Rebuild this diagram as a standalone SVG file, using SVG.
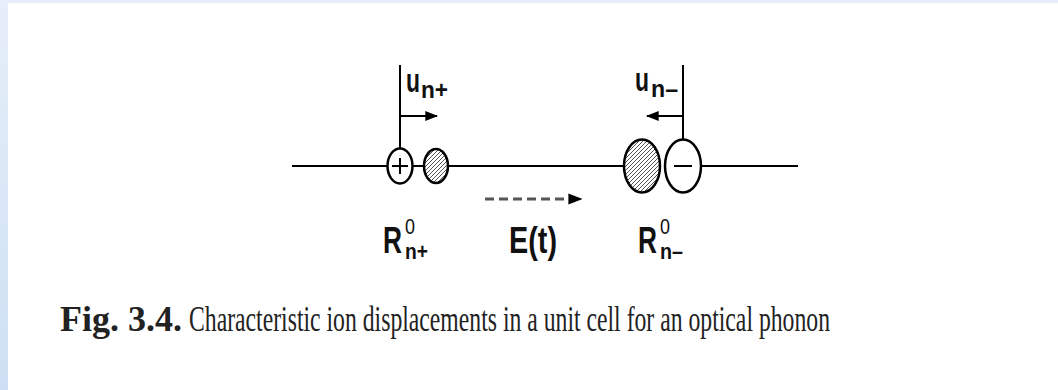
<svg xmlns="http://www.w3.org/2000/svg" width="1058" height="390" viewBox="0 0 1058 390">
<defs>
<linearGradient id="bg" x1="0" y1="0" x2="0" y2="1">
<stop offset="0" stop-color="#e6eef9"/>
<stop offset="1" stop-color="#cde0f3"/>
</linearGradient>
<pattern id="hatch" width="4" height="4" patternUnits="userSpaceOnUse">
<path d="M-1,1 L1,-1 M0,4 L4,0 M3,5 L5,3" stroke="#555" stroke-width="1"/>
</pattern>
<marker id="ah" viewBox="0 0 10 10" refX="9" refY="5" markerWidth="13" markerHeight="11" markerUnits="userSpaceOnUse" orient="auto" preserveAspectRatio="none">
<path d="M0,0.5 L10,5 L0,9.5 Z" fill="#000"/>
</marker>
<marker id="ah2" viewBox="0 0 10 10" refX="9" refY="5" markerWidth="14" markerHeight="12" markerUnits="userSpaceOnUse" orient="auto" preserveAspectRatio="none">
<path d="M0,0.5 L10,5 L0,9.5 Z" fill="#000"/>
</marker>
</defs>
<style>
.ln{stroke:#000;stroke-width:2;fill:none}
.ion{stroke:#000;stroke-width:2.5;fill:#fff}
.hat{stroke:#000;stroke-width:2.5;fill:url(#hatch)}
.lab{font-family:"Liberation Sans",Arial,sans-serif;font-weight:bold;fill:#111}
.sub{font-family:"Liberation Sans",Arial,sans-serif;fill:#111}
.cap{font-family:"Liberation Serif","Times New Roman",serif;fill:#222}
</style>
<rect x="0" y="0" width="1058" height="390" fill="#fff"/>
<rect x="0" y="0" width="1058" height="3" fill="#e6eef9"/>
<rect x="0" y="0" width="8" height="390" fill="url(#bg)"/>

<g id="connectors">
<line class="ln" x1="292" y1="166" x2="387" y2="166"/>
<line class="ln" x1="413" y1="166" x2="424" y2="166"/>
<line class="ln" x1="448" y1="166" x2="624" y2="166"/>
<line class="ln" x1="701" y1="166" x2="798" y2="166"/>
<line class="ln" x1="400" y1="65" x2="400" y2="148"/>
<line class="ln" x1="683" y1="65" x2="683" y2="139"/>
<line class="ln" x1="400" y1="116" x2="437" y2="116" marker-end="url(#ah)"/>
<line class="ln" x1="683" y1="116" x2="647" y2="116" marker-end="url(#ah)"/>
<line x1="485" y1="199" x2="581" y2="199" stroke="#555" stroke-width="3" stroke-dasharray="9,5" marker-end="url(#ah2)"/>
</g>

<g id="ion-plus-left">
<ellipse class="ion" cx="400" cy="166" rx="12.5" ry="17.5"/>
<path class="ln" d="M392,166 H408 M400,158 V174"/>
</g>
<g id="ion-hatched-left">
<ellipse class="hat" cx="436" cy="166" rx="12" ry="17"/>
</g>
<g id="ion-hatched-right">
<ellipse class="hat" cx="642" cy="166" rx="18" ry="26.5"/>
</g>
<g id="ion-minus-right">
<ellipse class="ion" cx="683" cy="166" rx="18" ry="26.5"/>
<path class="ln" d="M674,166 H692"/>
</g>

<g id="label-u-plus">
<text class="lab" x="406" y="92" font-size="33" textLength="14" lengthAdjust="spacingAndGlyphs">u</text>
<text class="lab" x="421" y="98" font-size="24" textLength="27" lengthAdjust="spacingAndGlyphs">n+</text>
</g>
<g id="label-u-minus">
<text class="lab" x="635" y="91" font-size="33" textLength="14" lengthAdjust="spacingAndGlyphs">u</text>
<text class="lab" x="651" y="97" font-size="24" textLength="27" lengthAdjust="spacingAndGlyphs">n–</text>
</g>
<g id="label-R-plus">
<text class="lab" x="383" y="253" font-size="36" textLength="19" lengthAdjust="spacingAndGlyphs">R</text>
<text class="sub" x="405" y="234" font-size="22" textLength="10" lengthAdjust="spacingAndGlyphs">0</text>
<text class="lab" x="405" y="259" font-size="22" textLength="23" lengthAdjust="spacingAndGlyphs">n+</text>
</g>
<g id="label-E">
<text class="lab" x="509" y="253" font-size="36" textLength="48" lengthAdjust="spacingAndGlyphs">E(t)</text>
</g>
<g id="label-R-minus">
<text class="lab" x="638" y="253" font-size="36" textLength="19" lengthAdjust="spacingAndGlyphs">R</text>
<text class="sub" x="660" y="234" font-size="22" textLength="10" lengthAdjust="spacingAndGlyphs">0</text>
<text class="lab" x="660" y="259" font-size="22" textLength="23" lengthAdjust="spacingAndGlyphs">n–</text>
</g>

<g id="caption">
<text class="cap" x="60" y="331" font-size="36" font-weight="bold" textLength="122" lengthAdjust="spacingAndGlyphs">Fig. 3.4.</text>
<text class="cap" x="189" y="331" font-size="36" textLength="641" lengthAdjust="spacingAndGlyphs">Characteristic ion displacements in a unit cell for an optical phonon</text>
</g>
</svg>
